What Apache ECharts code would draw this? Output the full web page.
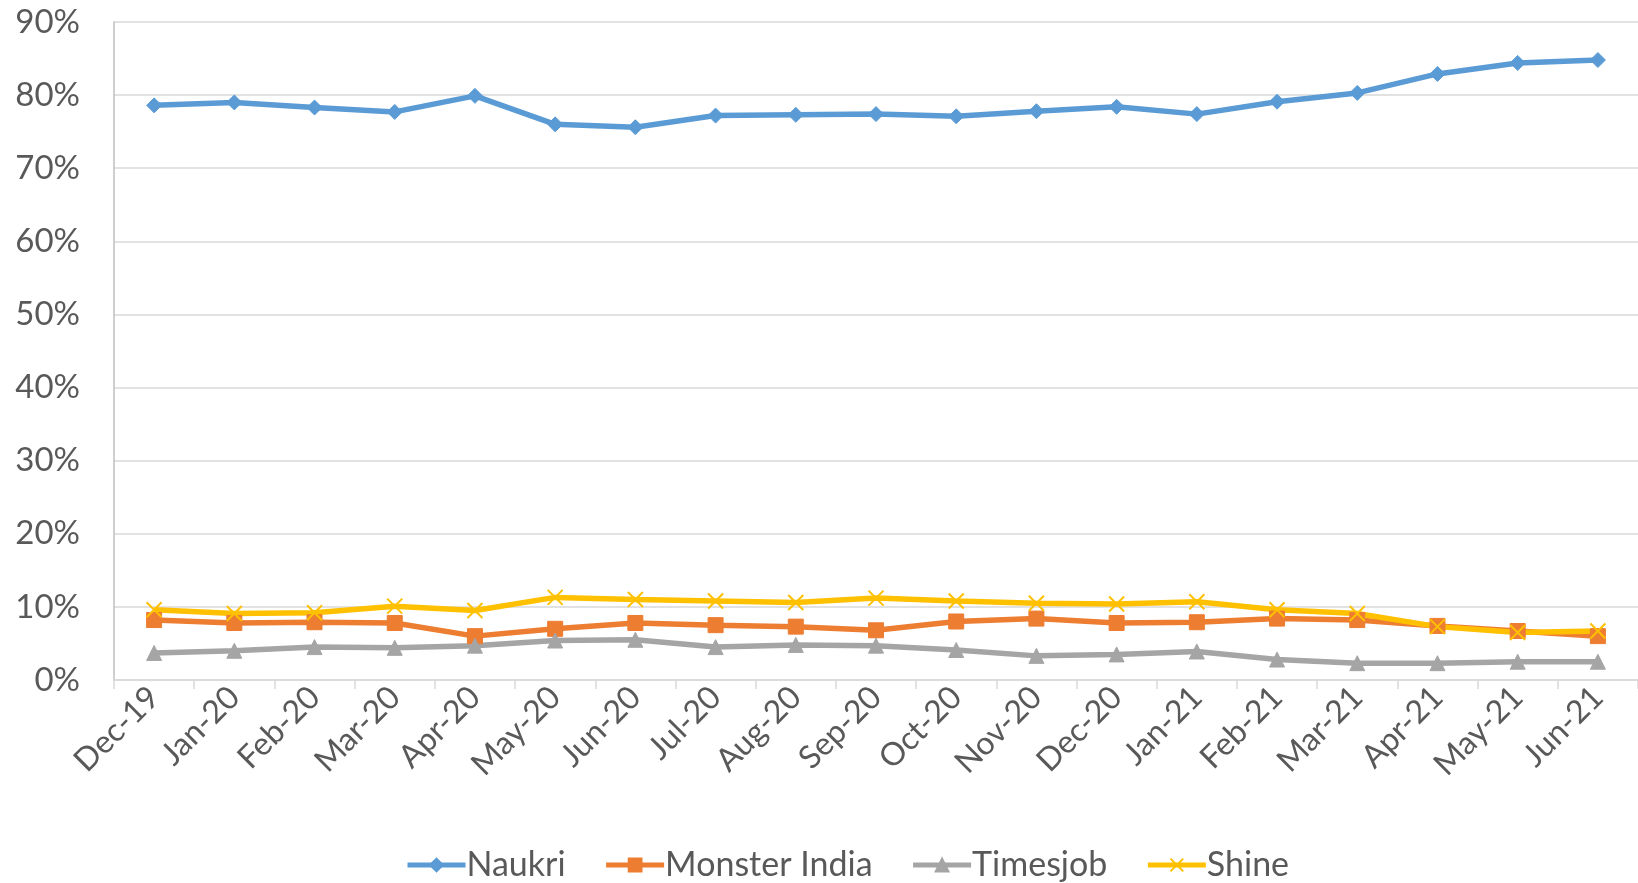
<!DOCTYPE html>
<html><head><meta charset="utf-8">
<script src="https://cdn.jsdelivr.net/npm/echarts@6/dist/echarts.min.js"></script>
<style>html,body{margin:0;padding:0;background:#fff}#c{width:1638px;height:883px}</style>
</head><body><div id="c"></div>
<script>
const categories = ['Dec-19','Jan-20','Feb-20','Mar-20','Apr-20','May-20','Jun-20','Jul-20','Aug-20','Sep-20','Oct-20','Nov-20','Dec-20','Jan-21','Feb-21','Mar-21','Apr-21','May-21','Jun-21'];
const naukri   = [78.6,79.0,78.3,77.7,79.9,76.0,75.6,77.2,77.3,77.4,77.1,77.8,78.4,77.4,79.1,80.3,82.9,84.4,84.8];
const monster  = [8.2,7.8,7.9,7.8,6.0,7.0,7.8,7.5,7.3,6.8,8.0,8.4,7.8,7.9,8.4,8.2,7.4,6.7,6.0];
const timesjob = [3.7,4.0,4.5,4.4,4.7,5.4,5.5,4.5,4.8,4.7,4.1,3.3,3.5,3.9,2.8,2.3,2.3,2.5,2.5];
const shine    = [9.6,9.1,9.2,10.1,9.5,11.3,11.0,10.8,10.6,11.2,10.8,10.5,10.4,10.7,9.6,9.1,7.3,6.5,6.7];
const yTicks = [0,10,20,30,40,50,60,70,80,90];

const font = 'Lato, "Open Sans", sans-serif';
const chart = echarts.init(document.getElementById('c'));
const mk = (name, data, color, symbol, size, extra) => Object.assign({
  name, type:'line', data, symbol, symbolSize:size, showSymbol:true,
  lineStyle:{color, width:5.5}, itemStyle:{color, borderColor:color, borderWidth:1},
  emphasis:{disabled:true}, animation:false
}, extra||{});
chart.setOption({
  animation:false,
  textStyle:{fontFamily:font},
  grid:{left:114, top:22, width:1534, height:658, containLabel:false},
  xAxis:{type:'category', data:categories, boundaryGap:true,
    axisLine:{lineStyle:{color:'#D9D9D9', width:1.5}},
    axisTick:{show:true, length:9, lineStyle:{color:'#D9D9D9', width:1.5}},
    axisLabel:{rotate:45, fontSize:32, color:'#595959', margin:12, fontFamily:font, interval:0}},
  yAxis:{type:'value', min:0, max:90, interval:10,
    axisLine:{show:true, lineStyle:{color:'#BFBFBF', width:1.5}},
    axisTick:{show:false},
    splitLine:{lineStyle:{color:'#D9D9D9', width:1.5}},
    axisLabel:{formatter: v => yTicks.includes(v) ? v + '%' : '', fontSize:33, color:'#595959', margin:34, fontFamily:font}},
  legend:{bottom:-4, left:400, itemWidth:58, itemHeight:16, itemGap:38,
    lineStyle:{width:5},
    textStyle:{fontSize:34, color:'#595959', fontFamily:font, padding:[0,0,0,-4]},
    data:['Naukri','Monster India','Timesjob','Shine']},
  series:[
    mk('Naukri', naukri, '#5B9BD5', 'diamond', 15),
    mk('Monster India', monster, '#ED7D31', 'rect', 15),
    mk('Timesjob', timesjob, '#A5A5A5', 'triangle', 15),
    mk('Shine', shine, '#FFC000', 'path://M0,0L10,10M10,0L0,10', 15, {itemStyle:{color:'#FFC000', borderColor:'#FFC000', borderWidth:2}})
  ]
});
</script></body></html>
